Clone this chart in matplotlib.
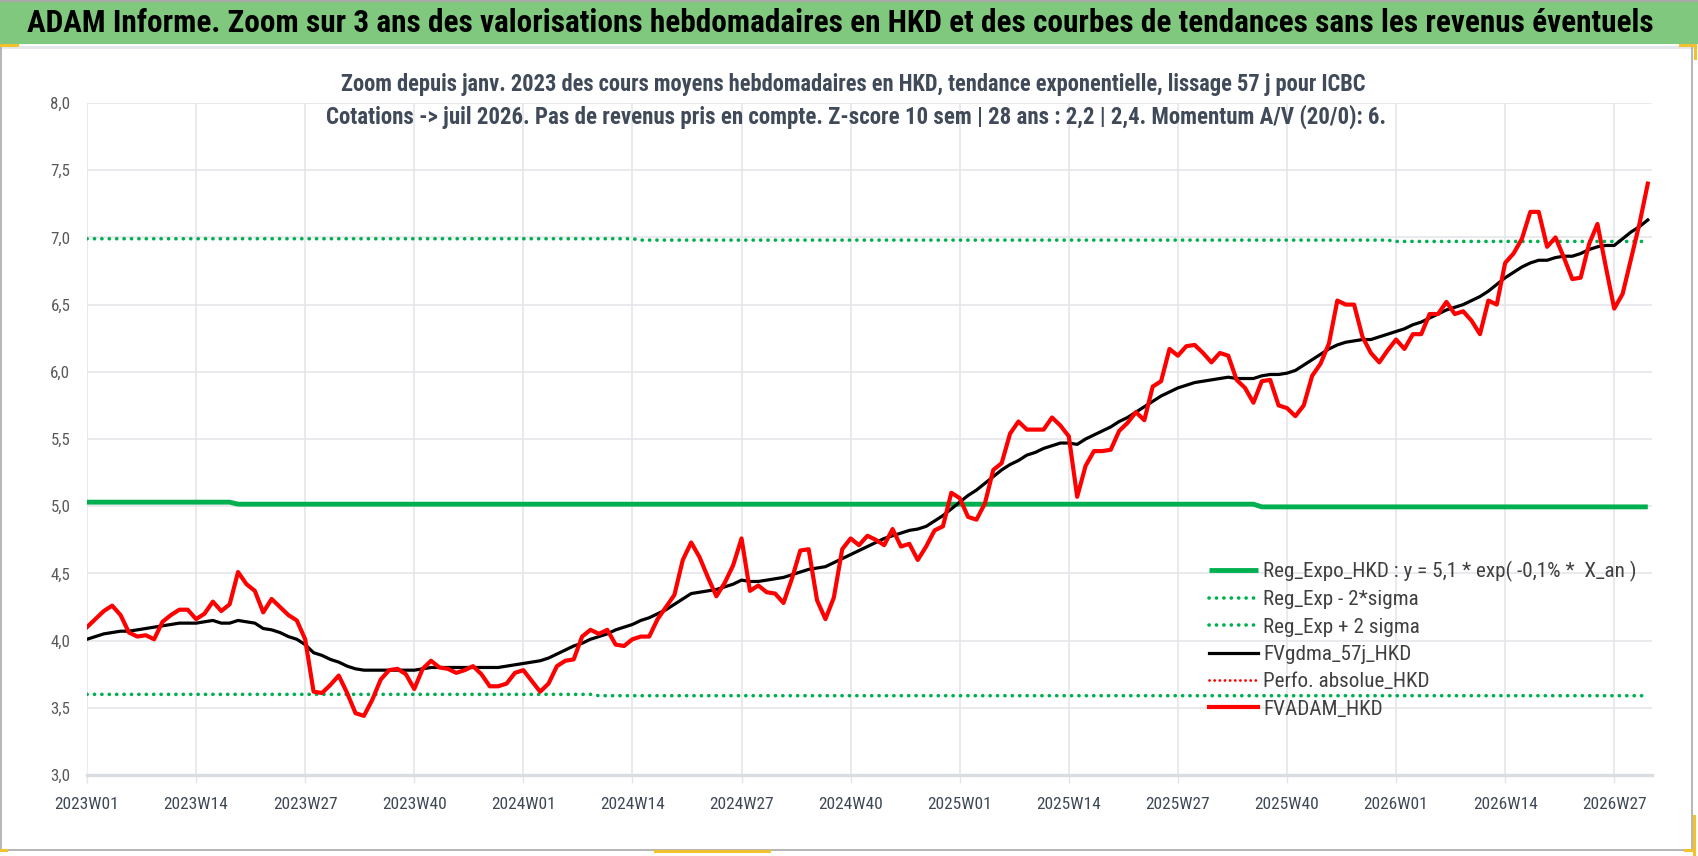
import matplotlib
matplotlib.use("Agg")
import matplotlib.pyplot as plt
from matplotlib import font_manager as fm
from matplotlib.lines import Line2D
from matplotlib.patches import Rectangle

# ---------------- data ----------------
fvadam_hkd = [
    4.10, 4.16, 4.22, 4.26, 4.19, 4.06, 4.03, 4.04, 4.01, 4.14,
    4.19, 4.23, 4.23, 4.16, 4.20, 4.29, 4.22, 4.27, 4.51, 4.42,
    4.37, 4.21, 4.31, 4.25, 4.19, 4.15, 4.01, 3.62, 3.61, 3.67,
    3.74, 3.61, 3.46, 3.44, 3.56, 3.71, 3.78, 3.79, 3.75, 3.64,
    3.79, 3.85, 3.80, 3.79, 3.76, 3.78, 3.81, 3.75, 3.66, 3.66,
    3.68, 3.76, 3.78, 3.70, 3.62, 3.68, 3.81, 3.85, 3.86, 4.03,
    4.08, 4.05, 4.08, 3.97, 3.96, 4.01, 4.03, 4.03, 4.16, 4.25,
    4.34, 4.60, 4.73, 4.62, 4.47, 4.33, 4.43, 4.56, 4.76, 4.37,
    4.41, 4.36, 4.35, 4.28, 4.46, 4.67, 4.68, 4.30, 4.16, 4.32,
    4.68, 4.76, 4.71, 4.78, 4.75, 4.71, 4.83, 4.70, 4.72, 4.60,
    4.70, 4.82, 4.85, 5.10, 5.06, 4.92, 4.90, 5.02, 5.27, 5.32,
    5.54, 5.63, 5.57, 5.57, 5.57, 5.66, 5.60, 5.52, 5.07, 5.30,
    5.41, 5.41, 5.42, 5.56, 5.62, 5.70, 5.64, 5.89, 5.93, 6.17,
    6.12, 6.19, 6.20, 6.14, 6.07, 6.14, 6.12, 5.94, 5.88, 5.77,
    5.93, 5.94, 5.75, 5.73, 5.67, 5.75, 5.97, 6.06, 6.21, 6.53,
    6.50, 6.50, 6.26, 6.14, 6.07, 6.16, 6.24, 6.17, 6.28, 6.28,
    6.43, 6.43, 6.52, 6.43, 6.45, 6.38, 6.28, 6.53, 6.50, 6.81,
    6.88, 6.99, 7.19, 7.19, 6.93, 7.00, 6.85, 6.69, 6.70, 6.95,
    7.10, 6.78, 6.47, 6.58, 6.84, 7.10, 7.40,
]

fvgdma_57j_hkd = [
    4.01, 4.03, 4.05, 4.06, 4.07, 4.07, 4.08, 4.09, 4.10, 4.11,
    4.12, 4.13, 4.13, 4.13, 4.14, 4.15, 4.13, 4.13, 4.15, 4.14,
    4.13, 4.09, 4.08, 4.06, 4.03, 4.01, 3.97, 3.91, 3.89, 3.86,
    3.84, 3.81, 3.79, 3.78, 3.78, 3.78, 3.78, 3.78, 3.78, 3.78,
    3.79, 3.80, 3.80, 3.80, 3.80, 3.80, 3.80, 3.80, 3.80, 3.80,
    3.81, 3.82, 3.83, 3.84, 3.85, 3.87, 3.90, 3.93, 3.96, 3.98,
    4.01, 4.03, 4.05, 4.08, 4.10, 4.12, 4.15, 4.17, 4.20, 4.23,
    4.27, 4.31, 4.35, 4.36, 4.37, 4.38, 4.40, 4.42, 4.45, 4.44,
    4.44, 4.45, 4.46, 4.47, 4.49, 4.51, 4.53, 4.54, 4.55, 4.58,
    4.61, 4.64, 4.67, 4.70, 4.73, 4.76, 4.78, 4.80, 4.82, 4.83,
    4.85, 4.89, 4.93, 4.98, 5.03, 5.08, 5.12, 5.17, 5.22, 5.27,
    5.31, 5.34, 5.38, 5.40, 5.43, 5.45, 5.47, 5.47, 5.46, 5.50,
    5.53, 5.56, 5.59, 5.63, 5.66, 5.70, 5.74, 5.78, 5.82, 5.85,
    5.88, 5.90, 5.92, 5.93, 5.94, 5.95, 5.96, 5.95, 5.95, 5.95,
    5.97, 5.98, 5.98, 5.99, 6.01, 6.05, 6.09, 6.13, 6.17, 6.20,
    6.22, 6.23, 6.24, 6.24, 6.26, 6.28, 6.30, 6.32, 6.35, 6.37,
    6.40, 6.43, 6.46, 6.48, 6.50, 6.53, 6.56, 6.60, 6.65, 6.70,
    6.74, 6.78, 6.81, 6.83, 6.83, 6.85, 6.86, 6.86, 6.88, 6.91,
    6.93, 6.94, 6.94, 6.99, 7.04, 7.08, 7.13,
]

n_pts = len(fvadam_hkd)

# regression and +/- 2 sigma bands (piecewise constant as displayed)
reg_levels = [5.03, 5.015, 4.995]
reg_breaks = [18, 140]
upper_levels = [6.99, 6.98, 6.97]
upper_breaks = [66, 156]
lower_levels = [3.60, 3.59]
lower_breaks = [61]

years = [2023, 2024, 2025, 2026]
weeks = [f"{y}W{w:02d}" for y in years for w in range(1, 53)][:n_pts]
label_step = 13

title_text = ("ADAM Informe. Zoom sur 3 ans des valorisations hebdomadaires en HKD "
              "et des courbes de tendances sans les revenus éventuels")
subtitle_1 = ("Zoom depuis janv. 2023 des cours moyens hebdomadaires en HKD, "
              "tendance exponentielle, lissage 57 j pour ICBC")
subtitle_2 = ("Cotations -> juil 2026. Pas de revenus pris en compte. Z-score 10 sem | "
              "28 ans : 2,2 | 2,4. Momentum A/V (20/0): 6.")
legend_labels = [
    "Reg_Expo_HKD : y = 5,1 * exp( -0,1% *  X_an )",
    "Reg_Exp - 2*sigma",
    "Reg_Exp + 2 sigma",
    "FVgdma_57j_HKD",
    "Perfo. absolue_HKD",
    "FVADAM_HKD",
]


def steps(levels, breaks, n):
    out = []
    bounds = [0] + breaks + [n]
    for lv, a, b in zip(levels, bounds[:-1], bounds[1:]):
        out += [lv] * (b - a)
    return out


reg_expo = steps(reg_levels, reg_breaks, n_pts)
reg_upper = steps(upper_levels, upper_breaks, n_pts)
reg_lower = steps(lower_levels, lower_breaks, n_pts)

# ---------------- fonts ----------------
names = {f.name for f in fm.fontManager.ttflist}
FONT = None
for cand in ["Liberation Sans Narrow", "Roboto Condensed", "Open Sans Condensed",
             "Noto Sans Condensed", "DejaVu Sans Condensed"]:
    if cand in names:
        FONT = cand
        break
if FONT is None:
    FONT = "Liberation Sans" if "Liberation Sans" in names else "DejaVu Sans"
plt.rcParams["font.family"] = [FONT, "DejaVu Sans"]

W, H = 1698, 856
fig = plt.figure(figsize=(W / 100, H / 100), dpi=100)
fig.patch.set_facecolor("white")


def fx(px):
    return px / W


def fy(py):
    return 1 - py / H


# title bar
fig.patches.append(Rectangle((0, fy(44)), 1, 44 / H, transform=fig.transFigure,
                             facecolor="#7FC87E", edgecolor="none", zorder=0))
fig.lines.append(Line2D([0, 1], [fy(46.5), fy(46.5)], transform=fig.transFigure,
                        color="#E3E7EC", lw=2))
# outer frame
fig.lines.append(Line2D([fx(1), fx(1), fx(1692), fx(1692)],
                        [fy(44), fy(850), fy(850), fy(44)],
                        transform=fig.transFigure, color="#A9A9A9", lw=1.2))
fig.lines.append(Line2D([0, 1], [fy(0.8), fy(0.8)], transform=fig.transFigure,
                        color="#A9A9A9", lw=1.5))
# selection handles (yellow marks)
for xs, ys in [([0, 17], [45, 45]), ([1680, 1695], [45, 45]), ([1695, 1695], [45, 58]),
               ([1694, 1694], [816, 856]), ([655, 769], [851, 851]),
               ([0, 6], [850, 850]), ([1685, 1694], [850, 850])]:
    fig.lines.append(Line2D([fx(v) for v in xs], [fy(v) for v in ys],
                            transform=fig.transFigure, color="#F2C12E", lw=2.2))

# ---------------- axes ----------------
ax_l, ax_r, ax_t, ax_b = 87, 1652, 103, 775
ax = fig.add_axes([fx(ax_l), fy(ax_b), (ax_r - ax_l) / W, (ax_b - ax_t) / H])
ax.set_facecolor("white")
x = list(range(n_pts))

DOTS = (0, (0.05, 2.0))
ax.plot(x, reg_expo, color="#00B050", lw=3.5, solid_capstyle="butt", zorder=3,
        label=legend_labels[0])
ax.plot(x, reg_lower, color="#00B050", lw=2.6, linestyle=DOTS,
        dash_capstyle="round", zorder=3, label=legend_labels[1])
ax.plot(x, reg_upper, color="#00B050", lw=2.6, linestyle=DOTS,
        dash_capstyle="round", zorder=3, label=legend_labels[2])
ax.plot(x, fvgdma_57j_hkd, color="black", lw=2.3, zorder=4, label=legend_labels[3])
ax.plot([], [], color="#FF0000", lw=2.0, linestyle=(0, (0.05, 1.8)),
        dash_capstyle="round", label=legend_labels[4])
ax.plot(x, fvadam_hkd, color="#FF0000", lw=3.0, zorder=5, label=legend_labels[5])

ax.set_xlim(0, 186.5)
ax.set_ylim(3.0, 8.0)
yt = [3.0 + 0.5 * k for k in range(11)]
ax.set_yticks(yt)
ax.set_yticklabels([f"{v:.1f}".replace(".", ",") for v in yt])
xt = list(range(0, n_pts, label_step))
ax.set_xticks(xt)
ax.set_xticklabels([weeks[i] for i in xt])

for s in ["top", "right", "left"]:
    ax.spines[s].set_visible(False)
ax.spines["bottom"].set_color("#D9DCE1")
ax.spines["bottom"].set_linewidth(2.4)
ax.spines["bottom"].set_zorder(1)
ax.grid(True, axis="both", color="#E1E4EA", lw=1.1, zorder=0)
ax.set_axisbelow(True)
ax.tick_params(axis="y", length=0, pad=12, labelcolor="#595959", labelsize=12.5)
ax.tick_params(axis="x", length=6, width=1.0, color="#E1E4EA", pad=10,
               labelcolor="#3F4857", labelsize=12.5)

# ---------------- texts ----------------
t_title = fig.text(fx(27), fy(23), title_text, ha="left", va="center",
                   fontsize=18, fontweight="bold", color="black")
t_sub1 = fig.text(fx(853), fy(85), subtitle_1, ha="center", va="center",
                  fontsize=14, fontweight="bold", color="#404A59")
t_sub2 = fig.text(fx(856), fy(117), subtitle_2, ha="center", va="center",
                  fontsize=14, fontweight="bold", color="#404A59")

leg = ax.legend(loc="upper left", bbox_to_anchor=(fx(1209), fy(561)),
                bbox_transform=fig.transFigure, frameon=False, fontsize=13.5,
                handlelength=2.6, handletextpad=0.3, labelspacing=0.6,
                borderpad=0, borderaxespad=0)

renderer = fig.canvas.get_renderer()


def fit(t, target):
    w = t.get_window_extent(renderer).width
    t.set_fontsize(t.get_fontsize() * target / w)


fit(t_title, 1624)
fit(t_sub1, 1034)
fit(t_sub2, 1063)

# tick label size from "2023W01" width (~65 px)
lab0 = ax.get_xticklabels()[0]
w0 = lab0.get_window_extent(renderer).width
ax.tick_params(axis="x", labelsize=12.5 * 65 / w0)
ylab = ax.get_yticklabels()[-1]
wy = ylab.get_window_extent(renderer).width
ax.tick_params(axis="y", labelsize=12.5 * 20 / wy)

# legend size from first entry width (~372 px)
lt0 = leg.get_texts()[0]
wl = lt0.get_window_extent(renderer).width
lsize = 13.5 * 372 / wl
lpx = lsize * 100 / 72
leg2 = ax.legend(loc="upper left", bbox_to_anchor=(fx(1209), fy(561)),
                 bbox_transform=fig.transFigure, frameon=False, fontsize=lsize,
                 handlelength=49 / lpx, handletextpad=5 / lpx,
                 labelspacing=max(0.2, 33 / lpx - 1.17),
                 borderpad=0, borderaxespad=0)
for t in leg2.get_texts():
    t.set_color("#404040")
leg2.set_zorder(6)

fig.savefig("out.png", dpi=100, facecolor="white")
